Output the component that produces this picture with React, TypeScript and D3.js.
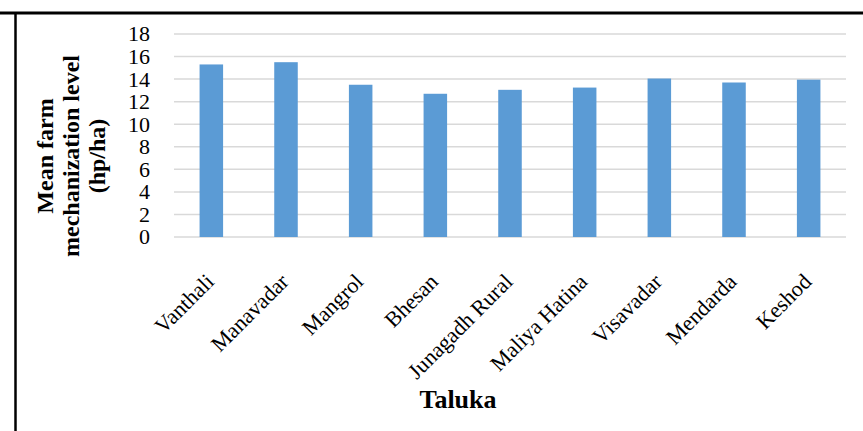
import { useEffect, useRef } from 'react';
import * as d3 from 'd3';

const talukas = ['Vanthali', 'Manavadar', 'Mangrol', 'Bhesan', 'Junagadh Rural', 'Maliya Hatina', 'Visavadar', 'Mendarda', 'Keshod'];
const levels = [15.3, 15.5, 13.5, 12.7, 13.05, 13.25, 14.05, 13.7, 13.95];
const yTicks = [0, 2, 4, 6, 8, 10, 12, 14, 16, 18];
const yTitleLines = ['Mean farm', 'mechanization level', '(hp/ha)'];

const serif = '"Liberation Serif", "Times New Roman", serif';

const App = () => {
  const chartRef = useRef<SVGSVGElement>(null);

  useEffect(() => {
    const width = 863;
    const height = 431;
    const margin = { top: 34, right: 17, bottom: 194, left: 174 };
    const plotW = width - margin.left - margin.right;
    const plotH = height - margin.top - margin.bottom;

    const svg = d3.select(chartRef.current);
    svg.selectAll('*').remove();

    svg.append('rect').attr('width', width).attr('height', height).attr('fill', '#fff');

    // frame lines around the figure
    svg.append('line')
      .attr('x1', 0).attr('x2', width).attr('y1', 13).attr('y2', 13)
      .attr('stroke', '#000').attr('stroke-width', 3);
    svg.append('line')
      .attr('x1', 15.5).attr('x2', 15.5).attr('y1', 13).attr('y2', height)
      .attr('stroke', '#000').attr('stroke-width', 2.5);

    const g = svg.append('g').attr('transform', `translate(${margin.left},${margin.top})`);

    const x = d3.scaleBand()
      .domain(talukas)
      .range([0, plotW])
      .paddingInner(0.685)
      .paddingOuter(0.3425);

    const y = d3.scaleLinear().domain([0, 18]).range([plotH, 0]);

    // grid lines
    g.append('g')
      .selectAll('line')
      .data(yTicks)
      .enter().append('line')
      .attr('x1', 0).attr('x2', plotW)
      .attr('y1', d => y(d)).attr('y2', d => y(d))
      .attr('stroke', '#d9d9d9')
      .attr('stroke-width', 1.5);

    // y tick labels (packed tight like the original)
    g.append('g')
      .selectAll('text')
      .data(yTicks)
      .enter().append('text')
      .attr('x', -24)
      .attr('y', d => y(d))
      .attr('dy', '0.34em')
      .attr('text-anchor', 'end')
      .attr('font-family', serif)
      .attr('font-size', 22)
      .attr('fill', '#000')
      .text(d => d);

    // bars
    g.selectAll('.bar')
      .data(talukas)
      .enter().append('rect')
      .attr('class', 'bar')
      .attr('x', d => x(d)!)
      .attr('y', (_d, i) => y(levels[i]))
      .attr('width', x.bandwidth())
      .attr('height', (_d, i) => plotH - y(levels[i]))
      .attr('fill', '#5b9bd5');

    // x labels, rotated
    g.append('g')
      .selectAll('text')
      .data(talukas)
      .enter().append('text')
      .attr('transform', d => `translate(${x(d)! + x.bandwidth() / 2 + 4},${plotH + 46}) rotate(-45)`)
      .attr('text-anchor', 'end')
      .attr('font-family', serif)
      .attr('font-size', 22)
      .attr('fill', '#000')
      .text(d => d);

    // x axis title
    svg.append('text')
      .attr('x', 458)
      .attr('y', 408)
      .attr('text-anchor', 'middle')
      .attr('font-family', serif)
      .attr('font-weight', 'bold')
      .attr('font-size', 26)
      .attr('fill', '#000')
      .text('Taluka');

    // y axis title
    const yTitle = svg.append('text')
      .attr('transform', 'translate(53,156) rotate(-90)')
      .attr('text-anchor', 'middle')
      .attr('font-family', serif)
      .attr('font-weight', 'bold')
      .attr('font-size', 24)
      .attr('fill', '#000');
    yTitle.selectAll('tspan')
      .data(yTitleLines)
      .enter().append('tspan')
      .attr('x', 0)
      .attr('y', (_d, i) => i * 26)
      .text(d => d);
  }, []);

  return (
    <svg
      ref={chartRef}
      width={863}
      height={431}
      style={{ position: 'absolute', left: 0, top: 0 }}
    />
  );
};

export default App;
